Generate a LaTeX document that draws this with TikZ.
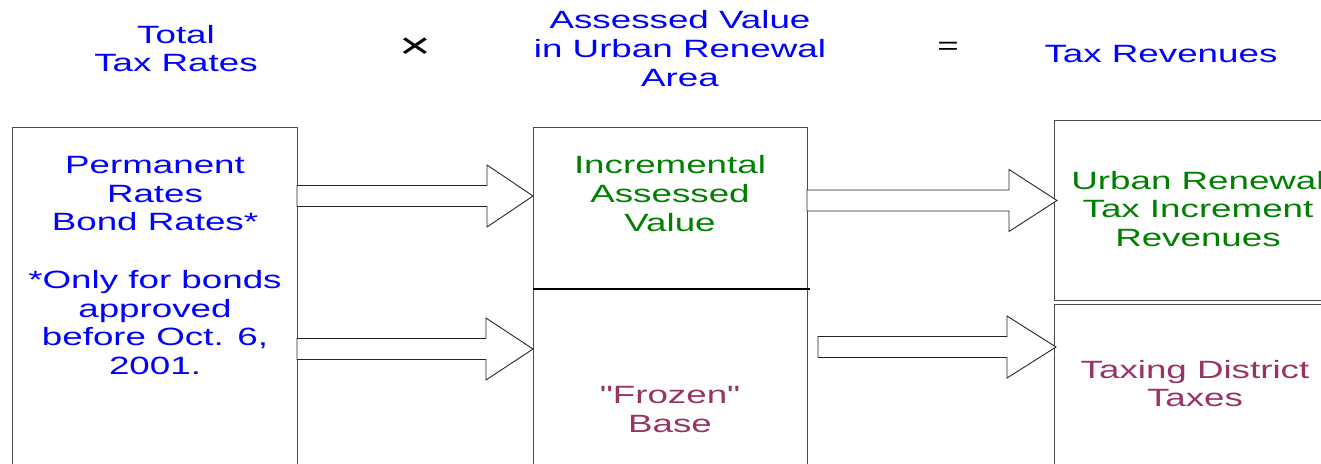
\documentclass[tikz,border=0pt]{standalone}
\usepackage{fontspec}
\setmainfont{Liberation Sans}[FakeStretch=1.47]
% same face without the TeX quote mapping, for straight quotes
\newfontfamily\plainquote{Liberation Sans}[FakeStretch=1.47]

\definecolor{rateblue}{RGB}{0,0,255}
\definecolor{incgreen}{RGB}{0,128,0}
\definecolor{basered}{RGB}{153,51,102}

\tikzset{
  lbl/.style={align=center,inner sep=0pt,font=\fontsize{25}{28.7}\selectfont},
  box/.style={draw=black!70,line width=1pt},
  fatarr/.style={draw=black!85,line width=0.9pt,fill=white}
}

% block arrow: tail x, neck x, tip x, middle y
\newcommand\fatarrow[4]{%
  \draw[fatarr] (#1,#4-10.5) -- (#2,#4-10.5) -- (#2,#4-31) -- (#3,#4)
    -- (#2,#4+31) -- (#2,#4+10.5) -- (#1,#4+10.5) -- cycle;}

\begin{document}
\begin{tikzpicture}[x=1pt,y=-1pt]
\useasboundingbox (0,0) rectangle (1321,463);
\clip (0,0) rectangle (1321,463);

% --- Header line: rates x value = revenues ---
\node[lbl,rateblue] (hrates) at (176,48.5) {Total\\Tax Rates};
\node[lbl,font=\fontsize{37}{37}\selectfont] (htimes) at (415,48) {×};
\node[lbl,rateblue] (hvalue) at (680,48.5) {Assessed Value\\in Urban Renewal\\Area};
\node[lbl] (hequals) at (948,48) {=};
\node[lbl,rateblue] (hrevenue) at (1161,54) {Tax Revenues};

% --- Boxes (they run off the bottom and right edge) ---
\draw[box] (12,127) rectangle (297,490);
\draw[box] (533,127) rectangle (807,490);
\draw[black,line width=1.4pt] (533,289) -- (810,289);
\draw[box] (1054,120) rectangle (1340,300.5);
\draw[box] (1054,304) rectangle (1340,490);

% --- Box texts ---
\node[lbl,rateblue] (rates) at (155,265.5)
  {Permanent\\Rates\\Bond Rates*\\[28.7pt]*Only for bonds\\approved\\before Oct. 6,\\2001.};
\node[lbl,incgreen] (increment) at (670,193.5) {Incremental\\Assessed\\Value};
\node[lbl,basered] (frozen) at (670,409.5) {{\plainquote"}Frozen{\plainquote"}\\Base};
\node[lbl,incgreen] (urbanrev) at (1198,209) {Urban Renewal\\Tax Increment\\Revenues};
\node[lbl,basered] (district) at (1195,383.5) {Taxing District\\Taxes};

% --- Block arrows ---
\fatarrow{297}{487}{533}{196}
\fatarrow{297}{486}{533}{349}
\fatarrow{807}{1009}{1057}{200.5}
\fatarrow{818}{1007}{1056}{347}
\end{tikzpicture}
\end{document}
